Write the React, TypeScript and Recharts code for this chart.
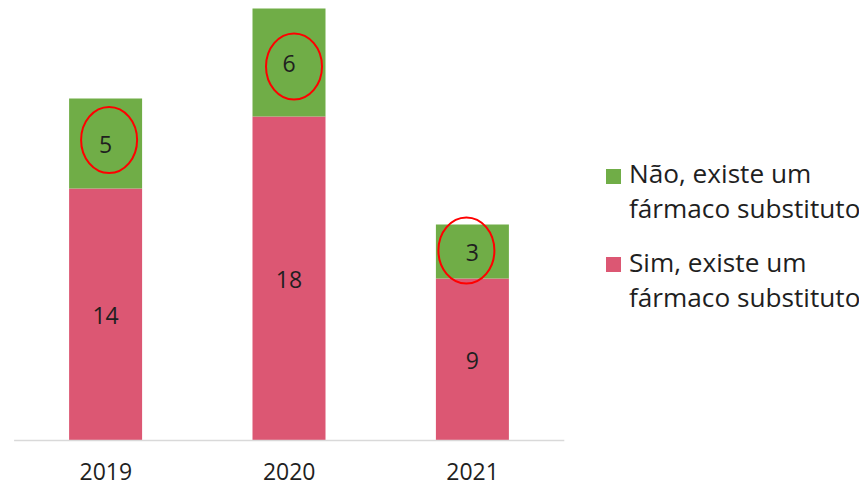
import React from 'react';
import { BarChart, Bar, XAxis, YAxis, LabelList, Legend } from 'recharts';

const years = ['2019', '2020', '2021'];
const simValues = [14, 18, 9];
const naoValues = [5, 6, 3];
const simName = 'Sim, existe um fármaco substituto';
const naoName = 'Não, existe um fármaco substituto';

// hand-drawn annotation ellipse offsets (relative to the label centre)
const ellipseOffsets = [
  [3.5, -3.5],
  [5, 4],
  [-6, -1],
];

const PINK = '#DC5773';
const GREEN = '#70AD47';
const FONT = "'Open Sans', sans-serif";
const TEXT = '#1F1F1F';

const data = years.map((y, i) => ({ year: y, sim: simValues[i], nao: naoValues[i] }));

const getBox = (props: any) =>
  props.viewBox && props.viewBox.width !== undefined ? props.viewBox : props;

const CircledLabel = (props: any) => {
  const vb = getBox(props);
  const cx = vb.x + vb.width / 2;
  const cy = vb.y + vb.height / 2;
  const off = ellipseOffsets[props.index ?? 0] || [0, 0];
  return (
    <g>
      <ellipse
        cx={cx + off[0]}
        cy={cy + off[1]}
        rx={28}
        ry={33}
        fill="none"
        stroke="#FF0000"
        strokeWidth={2}
      />
      <text x={cx} y={cy} textAnchor="middle" dominantBaseline="central" fill={TEXT} fontSize={23} fontFamily={FONT}>
        {props.value}
      </text>
    </g>
  );
};

const PlainLabel = (props: any) => {
  const vb = getBox(props);
  const cx = vb.x + vb.width / 2;
  const cy = vb.y + vb.height / 2;
  return (
    <text x={cx} y={cy} textAnchor="middle" dominantBaseline="central" fill={TEXT} fontSize={23} fontFamily={FONT}>
      {props.value}
    </text>
  );
};

const LegendContent = (props: any) => {
  const payload = props.payload || [];
  const items = [
    ...payload.filter((p: any) => p.dataKey === 'nao'),
    ...payload.filter((p: any) => p.dataKey !== 'nao'),
  ];
  return (
    <div style={{ fontFamily: FONT, fontSize: 26.2, color: TEXT, width: 259 }}>
      {items.map((it: any, i: number) => (
        <div key={i} style={{ display: 'flex', alignItems: 'flex-start', marginBottom: i === 0 ? 18.5 : 0 }}>
          <div style={{ width: 15, height: 15, background: it.color, marginTop: 12.8, marginRight: 8, flexShrink: 0 }} />
          <div style={{ whiteSpace: 'pre-line', lineHeight: '35px' }}>
            {String(it.value).replace(' fármaco', '\nfármaco')}
          </div>
        </div>
      ))}
    </div>
  );
};

export default function App() {
  return (
    <BarChart
      width={859}
      height={479}
      data={data}
      margin={{ top: 0.5, right: 43.7, bottom: 0, left: 6.1 }}
      barCategoryGap={0}
      barSize={73}
    >
      <XAxis
        dataKey="year"
        axisLine={{ stroke: '#D9D9D9', strokeWidth: 1.5 }}
        tickLine={false}
        height={46.5}
        tickMargin={17}
        tick={{ fill: TEXT, fontSize: 23, fontFamily: FONT }}
      />
      <YAxis hide domain={[0, 24]} />
      <Bar dataKey="sim" name={simName} stackId="a" fill={PINK} isAnimationActive={false}>
        <LabelList dataKey="sim" content={<PlainLabel />} />
      </Bar>
      <Bar dataKey="nao" name={naoName} stackId="a" fill={GREEN} isAnimationActive={false}>
        <LabelList dataKey="nao" content={<CircledLabel />} />
      </Bar>
      <Legend
        content={<LegendContent />}
        layout="vertical"
        align="right"
        verticalAlign="top"
        wrapperStyle={{ position: 'absolute', left: 598, top: 148.2, width: 259, height: 0, overflow: 'visible' }}
      />
    </BarChart>
  );
}
